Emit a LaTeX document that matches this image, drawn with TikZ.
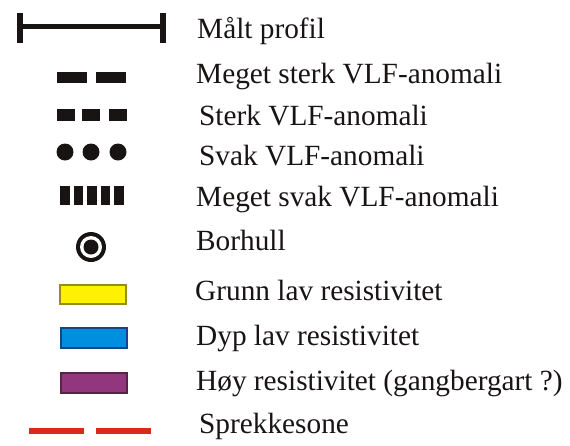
\documentclass[tikz,border=0pt]{standalone}
\usepackage{fontspec}
\setmainfont{Liberation Serif}
\definecolor{legyellow}{RGB}{255,242,0}
\definecolor{legyellowb}{RGB}{150,140,30}
\definecolor{legblue}{RGB}{0,142,222}
\definecolor{legblueb}{RGB}{20,70,130}
\definecolor{legpurple}{RGB}{146,55,125}
\definecolor{legpurpleb}{RGB}{80,40,70}
\definecolor{legred}{RGB}{218,40,30}
\definecolor{legblack}{RGB}{25,20,20}
\tikzset{
  lbl/.style={anchor=base west, inner sep=0pt, font=\fontsize{29.3}{31}\selectfont, text=legblack},
  blk/.style={fill=legblack, draw=none},
  swatch/.style={line width=1.2pt}
}
\begin{document}
\begin{tikzpicture}[x=1pt,y=-1pt]
\useasboundingbox (0,0) rectangle (570,445);
% Målt profil
\draw[legblack, line width=5pt] (20,26) -- (163,26);
\fill[legblack] (17,13) rectangle (23,43);
\fill[legblack] (160,13) rectangle (166,43);
% Meget sterk
\fill[blk] (57,72) rectangle (87,83);
\fill[blk] (96,72) rectangle (126,83);
% Sterk
\fill[blk] (57,109) rectangle (75,121);
\fill[blk] (82,109) rectangle (100,121);
\fill[blk] (109,109) rectangle (127,121);
% Svak
\fill[legblack] (65,152) circle (8.5);
\fill[legblack] (91,152) circle (8.5);
\fill[legblack] (118,152) circle (8.5);
% Meget svak
\foreach \x in {60,73.5,87,100.5,114}{\fill[blk] (\x,186) rectangle ++(9.5,19);}
% Borhull
\fill[legblack] (91,247) circle (15);
\fill[white] (91,247) circle (11);
\fill[legblack] (91,247) circle (7.5);
% swatches
\draw[swatch, draw=legyellowb, fill=legyellow] (60,285) rectangle (126,304);
\draw[swatch, draw=legblueb, fill=legblue] (61,328) rectangle (127,348);
\draw[swatch, draw=legpurpleb, fill=legpurple] (61,373) rectangle (127,393);
% Sprekkesone
\draw[legred, line width=6pt] (29,431) -- (84,431);
\draw[legred, line width=6pt] (96,431) -- (151,431);
% labels
\node[lbl] (t1) at (197,38) {Målt profil};
\node[lbl] (t2) at (196,83) {Meget sterk VLF-anomali};
\node[lbl] (t3) at (199,125) {Sterk VLF-anomali};
\node[lbl] (t4) at (199,165) {Svak VLF-anomali};
\node[lbl] (t5) at (196,206) {Meget svak VLF-anomali};
\node[lbl] (t6) at (196,250) {Borhull};
\node[lbl] (t7) at (195,300) {Grunn lav resistivitet};
\node[lbl] (t8) at (196,345) {Dyp lav resistivitet};
\node[lbl] (t9) at (196,390) {Høy resistivitet (gangbergart ?)};
\node[lbl] (t10) at (199,433) {Sprekkesone};
\end{tikzpicture}
\end{document}
